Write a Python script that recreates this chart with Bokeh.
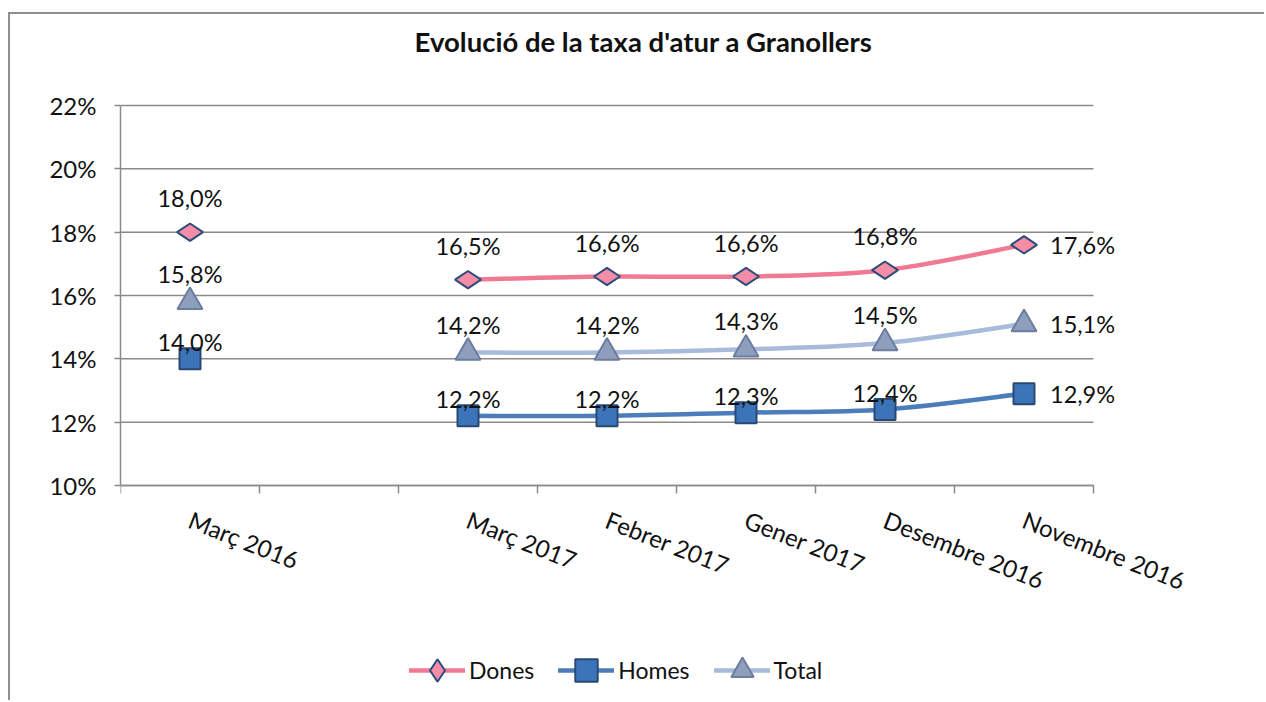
import math
from bokeh.plotting import figure
from bokeh.models import (FixedTicker, Range1d, Legend, LegendItem, Label,
                          ColumnDataSource, PrintfTickFormatter)
from bokeh.embed import file_html
from bokeh.resources import INLINE
from bokeh.core.properties import value

# ---------------- data ----------------
categories = ["Març 2016", "", "Març 2017", "Febrer 2017", "Gener 2017",
              "Desembre 2016", "Novembre 2016"]
dones = [18.0, None, 16.5, 16.6, 16.6, 16.8, 17.6]
homes = [14.0, None, 12.2, 12.2, 12.3, 12.4, 12.9]
total = [15.8, None, 14.2, 14.2, 14.3, 14.5, 15.1]
y_ticks = [10, 12, 14, 16, 18, 20, 22]
series_names = ["Dones", "Homes", "Total"]
title_text = "Evolució de la taxa d'atur a Granollers"

# ---------------- layout geometry (pixels on the canvas) ----------------
W, H = 1256, 688
FRAME_L = 110                  # left edge of plot area
AX_L, AX_R = 110, 1083         # category axis extent
AX_T, AX_B = 91, 471           # value axis extent (22% .. 10%)
n_cat = len(categories)
XU = (AX_R - AX_L) / n_cat
YU = (AX_B - AX_T) / (y_ticks[-1] - y_ticks[0])
x_end = (W - FRAME_L) / XU
y_lo = y_ticks[0] - (H - AX_B) / YU
y_hi = y_ticks[-1] + AX_T / YU


def px_x(px):
    return (px - FRAME_L) / XU


def px_y(py):
    return y_ticks[-1] + (AX_T - py) / YU


FONT = "Lato"
GRAY = "#8a8a8a"
TXT = "#111111"

p = figure(width=W, height=H, x_range=Range1d(0, x_end), y_range=Range1d(y_lo, y_hi),
           output_backend="svg", toolbar_location=None,
           min_border_left=FRAME_L, min_border_right=0,
           min_border_top=0, min_border_bottom=0)
p.title.text = ""
p.title.visible = False
p.styles = {"margin-left": "8px", "margin-top": "12px",
            "border-left": "2px solid #8f8f8f", "border-top": "2px solid #8f8f8f"}
p.outline_line_color = None
p.background_fill_color = "white"
p.border_fill_color = "white"

# y axis
p.yaxis.ticker = FixedTicker(ticks=y_ticks)
p.yaxis.bounds = (y_ticks[0], y_ticks[-1])
p.yaxis.formatter = PrintfTickFormatter(format="%d%%")
p.yaxis.axis_line_color = GRAY
p.yaxis.axis_line_width = 1.5
p.yaxis.major_tick_line_color = GRAY
p.yaxis.major_tick_line_width = 1.5
p.yaxis.major_tick_out = 6
p.yaxis.major_tick_in = 0
p.yaxis.minor_tick_line_color = None
p.yaxis.major_label_standoff = 18
p.yaxis.major_label_text_font = FONT
p.yaxis.major_label_text_font_size = "24px"
p.yaxis.major_label_text_color = TXT

# x axis (category axis fixed at the 10% level)
centers = [i + 0.5 for i, c in enumerate(categories) if c]
p.xaxis.fixed_location = y_ticks[0]
p.xaxis.bounds = (0, n_cat)
p.xaxis.ticker = FixedTicker(ticks=centers, minor_ticks=list(range(n_cat + 1)))
p.xaxis.major_label_overrides = {i + 0.5: c for i, c in enumerate(categories) if c}
p.xaxis.axis_line_color = GRAY
p.xaxis.axis_line_width = 1.5
p.xaxis.major_tick_line_color = None
p.xaxis.major_tick_out = 0
p.xaxis.major_tick_in = 0
p.xaxis.minor_tick_line_color = GRAY
p.xaxis.minor_tick_line_width = 1.5
p.xaxis.minor_tick_out = 8
p.xaxis.minor_tick_in = 0
p.xaxis.major_label_orientation = -0.375
p.xaxis.major_label_standoff = 25
p.xaxis.major_label_text_font = FONT
p.xaxis.major_label_text_font_size = "24px"
p.xaxis.major_label_text_color = TXT

# horizontal gridlines across the category axis only
p.xgrid.visible = False
p.ygrid.visible = False
p.segment(x0=0, x1=n_cat, y0=y_ticks, y1=y_ticks, line_color=GRAY, line_width=1.5,
          level="underlay")

styles = {
    "Dones": dict(line="#F07A93", fill="#F48DA5", edge="#2C4C7A", marker="diamond",
                  size=26, angle=math.pi / 2, dy=-34),
    "Homes": dict(line="#4A7DBA", fill="#3C74BA", edge="#2A4872", marker="square",
                  size=21, angle=0.0, dy=-17),
    "Total": dict(line="#A9BBDA", fill="#8E9EBD", edge="#6C7D9F", marker="triangle",
                  size=25, angle=0.0, dy=-28),
}


def smooth_segments(vals):
    """Catmull-Rom style bezier segments between consecutive valid points."""
    xs = [i + 0.5 for i in range(len(vals))]
    segs = dict(x0=[], y0=[], x1=[], y1=[], cx0=[], cy0=[], cx1=[], cy1=[])
    n = len(vals)
    for i in range(n - 1):
        if vals[i] is None or vals[i + 1] is None:
            continue
        a = i - 1 if (i - 1 >= 0 and vals[i - 1] is not None) else i
        d = i + 2 if (i + 2 < n and vals[i + 2] is not None) else i + 1
        p0 = (xs[a], vals[a]); p1 = (xs[i], vals[i])
        p2 = (xs[i + 1], vals[i + 1]); p3 = (xs[d], vals[d])
        segs["x0"].append(p1[0]); segs["y0"].append(p1[1])
        segs["x1"].append(p2[0]); segs["y1"].append(p2[1])
        segs["cx0"].append(p1[0] + (p2[0] - p0[0]) / 6)
        segs["cy0"].append(p1[1] + (p2[1] - p0[1]) / 6)
        segs["cx1"].append(p2[0] - (p3[0] - p1[0]) / 6)
        segs["cy1"].append(p2[1] - (p3[1] - p1[1]) / 6)
    return segs


def fmt(v):
    return f"{v:.1f}%".replace(".", ",")


legend_items = []
for name, vals in zip(series_names, [dones, homes, total]):
    st = styles[name]
    bz = p.bezier(source=ColumnDataSource(smooth_segments(vals)),
                  x0="x0", y0="y0", x1="x1", y1="y1",
                  cx0="cx0", cy0="cy0", cx1="cx1", cy1="cy1",
                  line_color=st["line"], line_width=4.5, line_cap="round")
    idx = [i for i, v in enumerate(vals) if v is not None]
    src = ColumnDataSource(dict(x=[i + 0.5 for i in idx], y=[vals[i] for i in idx]))
    sc = p.scatter(x="x", y="y", source=src, marker=st["marker"], size=st["size"],
                   angle=st["angle"], fill_color=st["fill"], line_color=st["edge"],
                   line_width=2)
    legend_items.append(LegendItem(label=name, renderers=[bz, sc]))

    last = idx[-1]
    above = ColumnDataSource(dict(x=[i + 0.5 for i in idx if i != last],
                                  y=[vals[i] for i in idx if i != last],
                                  lab=[fmt(vals[i]) for i in idx if i != last]))
    right = ColumnDataSource(dict(x=[last + 0.5], y=[vals[last]], lab=[fmt(vals[last])]))
    p.text(x="x", y="y", text="lab", source=above, text_font=value(FONT),
           text_font_size="23.5px", text_align="center", text_baseline="middle",
           y_offset=st["dy"], text_color=TXT)
    p.text(x="x", y="y", text="lab", source=right, text_font=value(FONT),
           text_font_size="23.5px", text_align="left", text_baseline="middle",
           x_offset=26, text_color=TXT)

GH = 56
legend = Legend(items=legend_items, location=(399 - FRAME_L, H - (656 + GH // 2)),
                orientation="horizontal",
                glyph_width=56, glyph_height=GH, label_text_font=FONT,
                label_text_font_size="23px", label_text_color=TXT, spacing=24,
                label_standoff=4, padding=0, margin=0, border_line_color=None,
                background_fill_alpha=0)
p.add_layout(legend)

p.add_layout(Label(x=px_x(633), y=px_y(27), text=title_text,
                   text_align="center", text_baseline="middle", text_font=FONT,
                   text_font_style="bold", text_font_size="27.5px", text_color=TXT))

open("out.html", "w").write(file_html(p, INLINE))
